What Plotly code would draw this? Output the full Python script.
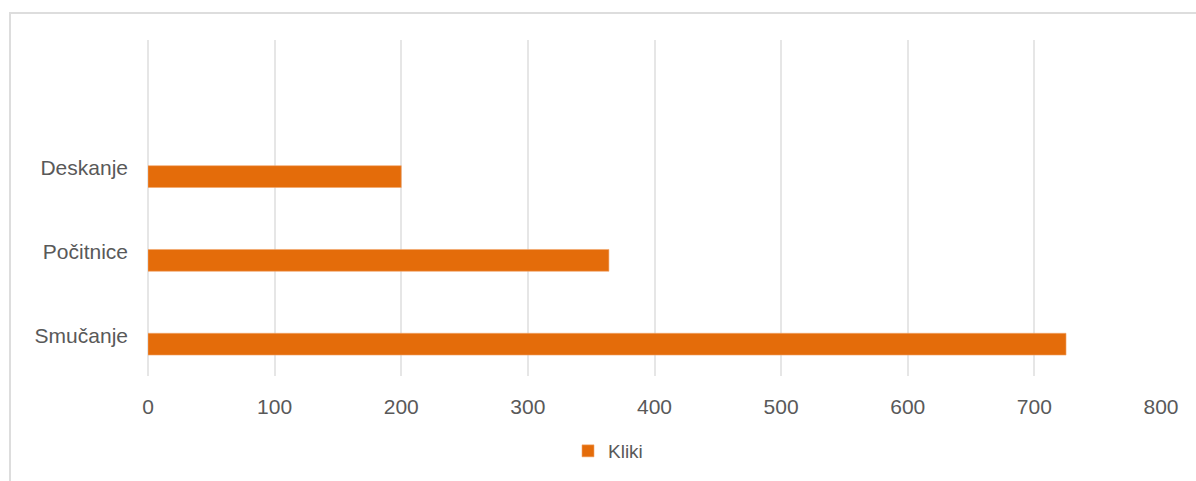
import plotly.graph_objects as go

# Clicks per topic
categories = ["Smučanje", "Počitnice", "Deskanje"]
kliki = [725, 364, 200]
x_ticks = [0, 100, 200, 300, 400, 500, 600, 700, 800]

W, H = 1196, 481
L, R, T, B = 148, 35, 40, 104
plot_w = W - L - R
plot_h = H - T - B


def px_x(p):
    return (p - L) / plot_w


def px_y(p):
    return (H - B - p) / plot_h


fig = go.Figure()
fig.add_trace(go.Bar(
    y=categories,
    x=kliki,
    orientation="h",
    name="Kliki",
    width=0.26,
    marker=dict(color="#E46C0A", line=dict(color="#F2A46A", width=0.6)),
    showlegend=True,
))

fig.update_layout(
    width=W,
    height=H,
    margin=dict(l=L, r=R, t=T, b=B),
    paper_bgcolor="white",
    plot_bgcolor="white",
    font=dict(family="Liberation Sans, Arial, sans-serif", color="#595959"),
    xaxis=dict(
        range=[0, 800],
        tickvals=x_ticks,
        ticktext=[str(v) for v in x_ticks],
        showgrid=True,
        gridcolor="#E6E6E6",
        gridwidth=1.5,
        zeroline=True,
        zerolinecolor="#E6E6E6",
        zerolinewidth=1.5,
        showline=False,
        ticks="",
        ticklabelstandoff=16,
        tickfont=dict(size=21, color="#595959"),
    ),
    yaxis=dict(
        type="category",
        categoryorder="array",
        categoryarray=categories,
        range=[-0.38, 3.63],
        showgrid=False,
        zeroline=False,
        showline=False,
        ticks="",
        ticklabelstandoff=19,
        ticklabelshift=-9,
        tickfont=dict(size=21, color="#595959"),
    ),
    legend=dict(
        orientation="h",
        x=px_x(568),
        xanchor="left",
        y=px_y(451),
        yanchor="middle",
        font=dict(size=19, color="#595959"),
        bgcolor="rgba(0,0,0,0)",
    ),
    bargap=0.7,
)

# Chart frame
fig.add_shape(
    type="rect",
    xref="paper",
    yref="paper",
    x0=px_x(10),
    x1=px_x(W + 40),
    y0=px_y(H + 40),
    y1=px_y(13),
    line=dict(color="#DDDDDD", width=2),
    fillcolor="rgba(0,0,0,0)",
    layer="below",
)

fig.write_html("out.html")
